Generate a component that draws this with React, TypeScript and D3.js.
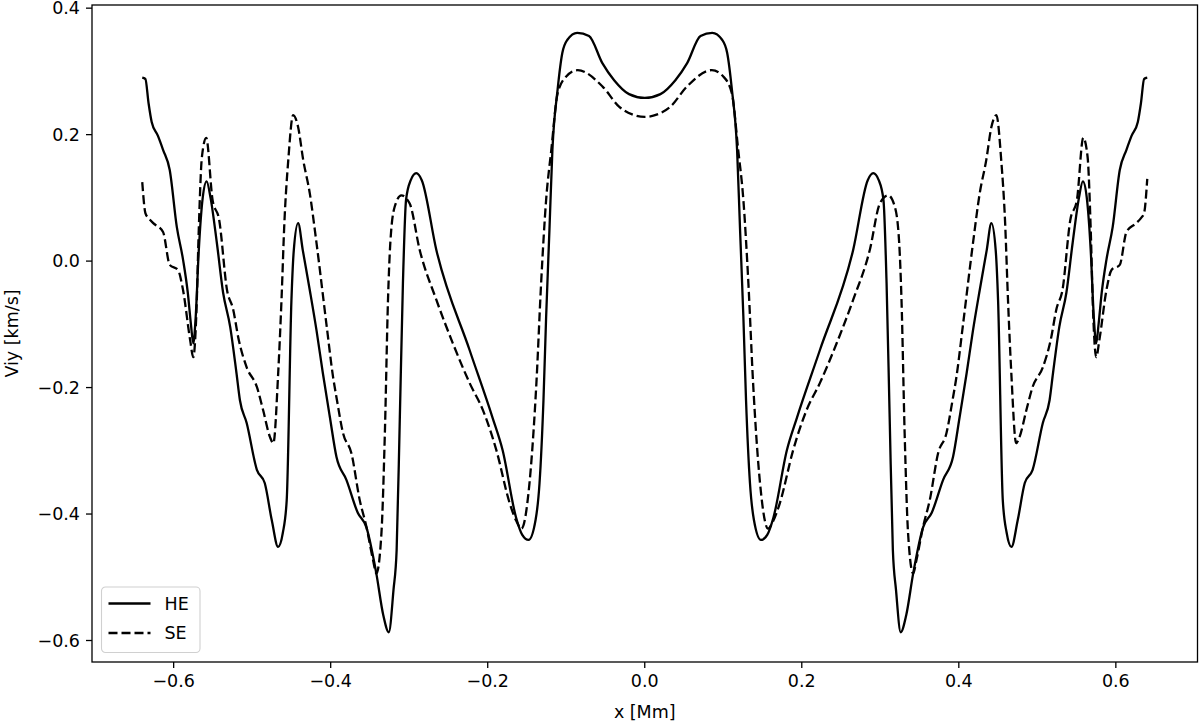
import React from 'react';
import * as d3 from 'd3';

// Viy profiles, [x in Mm, Viy in km/s]
const HE: [number, number][] = [
  [-0.640, 0.290], [-0.636, 0.288], [-0.632, 0.250], [-0.628, 0.220], [-0.620, 0.198],
  [-0.6135, 0.176], [-0.605, 0.144], [-0.596, 0.054], [-0.588, 0.002], [-0.582, -0.050],
  [-0.578, -0.100], [-0.575, -0.130], [-0.572, -0.090], [-0.568, 0.017], [-0.563, 0.100],
  [-0.558, 0.126], [-0.553, 0.100], [-0.545, 0.029], [-0.537, -0.050], [-0.528, -0.104],
  [-0.520, -0.177], [-0.5156, -0.220], [-0.507, -0.256], [-0.494, -0.330], [-0.484, -0.351],
  [-0.475, -0.410], [-0.467, -0.452], [-0.461, -0.430], [-0.456, -0.378], [-0.450, -0.062],
  [-0.447, 0.017], [-0.4415, 0.060], [-0.4355, 0.017], [-0.4266, -0.046], [-0.418, -0.110],
  [-0.410, -0.177], [-0.401, -0.247], [-0.3926, -0.310], [-0.380, -0.346], [-0.3655, -0.398],
  [-0.3545, -0.421], [-0.342, -0.493], [-0.333, -0.560], [-0.326, -0.587], [-0.320, -0.520],
  [-0.316, -0.457], [-0.312, -0.251], [-0.308, -0.035], [-0.304, 0.097], [-0.298, 0.128],
  [-0.291, 0.139], [-0.284, 0.128], [-0.2655, 0.018], [-0.223, -0.141], [-0.194, -0.247],
  [-0.181, -0.299], [-0.164, -0.405], [-0.156, -0.433], [-0.148, -0.441], [-0.139, -0.409],
  [-0.134, -0.351], [-0.129, -0.220], [-0.1256, -0.088], [-0.1214, 0.049], [-0.1176, 0.176],
  [-0.111, 0.271], [-0.105, 0.329], [-0.0985, 0.350], [-0.086, 0.361], [-0.071, 0.356],
  [-0.054, 0.313], [-0.039, 0.286], [-0.020, 0.264], [0.000, 0.258],
  [0.020, 0.264], [0.039, 0.286], [0.054, 0.313], [0.071, 0.356], [0.086, 0.361],
  [0.0985, 0.350], [0.105, 0.329], [0.111, 0.271], [0.1176, 0.176], [0.1214, 0.049],
  [0.1256, -0.088], [0.129, -0.220], [0.134, -0.351], [0.139, -0.409], [0.148, -0.441],
  [0.156, -0.433], [0.164, -0.405], [0.181, -0.299], [0.194, -0.247], [0.223, -0.141],
  [0.2655, 0.018], [0.284, 0.128], [0.291, 0.139], [0.298, 0.128], [0.304, 0.097],
  [0.308, -0.035], [0.312, -0.251], [0.316, -0.457], [0.320, -0.520], [0.326, -0.587],
  [0.333, -0.560], [0.342, -0.493], [0.3545, -0.421], [0.3655, -0.398], [0.380, -0.346],
  [0.3926, -0.310], [0.401, -0.247], [0.410, -0.177], [0.418, -0.110], [0.4266, -0.046],
  [0.4355, 0.017], [0.4415, 0.060], [0.447, 0.017], [0.450, -0.062], [0.456, -0.378],
  [0.461, -0.430], [0.467, -0.452], [0.475, -0.410], [0.484, -0.351], [0.494, -0.330],
  [0.507, -0.256], [0.5156, -0.220], [0.520, -0.177], [0.528, -0.104], [0.537, -0.050],
  [0.545, 0.029], [0.553, 0.100], [0.558, 0.126], [0.563, 0.100], [0.568, 0.017],
  [0.572, -0.090], [0.575, -0.130], [0.578, -0.100], [0.582, -0.050], [0.588, 0.002],
  [0.596, 0.054], [0.605, 0.144], [0.6135, 0.176], [0.620, 0.198], [0.628, 0.220],
  [0.632, 0.250], [0.636, 0.288], [0.640, 0.290],
];

const SE: [number, number][] = [
  [-0.640, 0.125], [-0.636, 0.076], [-0.632, 0.068], [-0.626, 0.060], [-0.6135, 0.046],
  [-0.605, -0.006], [-0.5945, -0.014], [-0.588, -0.046], [-0.579, -0.125], [-0.575, -0.152],
  [-0.571, -0.080], [-0.568, 0.050], [-0.564, 0.165], [-0.5585, 0.195], [-0.5505, 0.097],
  [-0.542, 0.065], [-0.532, -0.046], [-0.5245, -0.075], [-0.517, -0.125], [-0.507, -0.168],
  [-0.494, -0.199], [-0.486, -0.236], [-0.4774, -0.278], [-0.473, -0.288], [-0.4669, -0.178],
  [-0.4626, -0.060], [-0.459, 0.060], [-0.454, 0.160], [-0.4478, 0.231], [-0.4415, 0.212],
  [-0.435, 0.160], [-0.4266, 0.107], [-0.418, 0.028], [-0.405, -0.104], [-0.397, -0.183],
  [-0.392, -0.220], [-0.3843, -0.272], [-0.3736, -0.304], [-0.363, -0.378], [-0.3545, -0.420],
  [-0.346, -0.473], [-0.3418, -0.494], [-0.3354, -0.431], [-0.331, -0.272], [-0.327, -0.061],
  [-0.324, 0.030], [-0.3185, 0.086], [-0.310, 0.104], [-0.2994, 0.091], [-0.2867, 0.018],
  [-0.2655, -0.061], [-0.2444, -0.130], [-0.223, -0.193], [-0.206, -0.236], [-0.189, -0.299],
  [-0.172, -0.383], [-0.164, -0.410], [-0.157, -0.423], [-0.1468, -0.351], [-0.138, -0.193],
  [-0.132, -0.035], [-0.1256, 0.097], [-0.119, 0.176], [-0.111, 0.265], [-0.100, 0.292],
  [-0.0854, 0.302], [-0.0537, 0.276], [-0.0324, 0.244], [-0.016, 0.232], [0.000, 0.228],
  [0.016, 0.232], [0.0324, 0.244], [0.0537, 0.276], [0.0854, 0.302], [0.100, 0.292],
  [0.111, 0.265], [0.119, 0.176], [0.1256, 0.097], [0.132, -0.035], [0.138, -0.193],
  [0.1468, -0.351], [0.157, -0.423], [0.164, -0.410], [0.172, -0.383], [0.189, -0.299],
  [0.206, -0.236], [0.223, -0.193], [0.2444, -0.130], [0.2655, -0.061], [0.2867, 0.018],
  [0.2994, 0.091], [0.310, 0.104], [0.3185, 0.086], [0.324, 0.030], [0.327, -0.061],
  [0.331, -0.272], [0.3354, -0.431], [0.3418, -0.494], [0.346, -0.473], [0.3545, -0.420],
  [0.363, -0.378], [0.3736, -0.304], [0.3843, -0.272], [0.392, -0.220], [0.397, -0.183],
  [0.405, -0.104], [0.418, 0.028], [0.4266, 0.107], [0.435, 0.160], [0.4415, 0.212],
  [0.4478, 0.231], [0.454, 0.160], [0.459, 0.060], [0.4626, -0.060], [0.4669, -0.178],
  [0.473, -0.288], [0.4774, -0.278], [0.486, -0.236], [0.494, -0.199], [0.507, -0.168],
  [0.517, -0.125], [0.5245, -0.075], [0.532, -0.046], [0.542, 0.065], [0.5505, 0.097],
  [0.5585, 0.195], [0.564, 0.165], [0.568, 0.050], [0.571, -0.080], [0.575, -0.152],
  [0.579, -0.125], [0.588, -0.046], [0.5945, -0.014], [0.605, -0.006], [0.6135, 0.046],
  [0.626, 0.060], [0.632, 0.068], [0.636, 0.076], [0.640, 0.130],
];

const SERIES_NAMES = ['HE', 'SE'];
const X_TICKS = [-0.6, -0.4, -0.2, 0.0, 0.2, 0.4, 0.6];
const Y_TICKS = [-0.6, -0.4, -0.2, 0.0, 0.2, 0.4];

export default function App() {
  const width = 1200, height = 724;
  const left = 92, right = 1197.5, top = 5, bottom = 662;
  const font = 'DejaVu Sans, sans-serif';
  const fs = 17.5;
  const tickLen = 6, tickPad = 6;

  const x = d3.scaleLinear().domain([-0.704, 0.704]).range([left, right]);
  const y = d3.scaleLinear().domain([-0.634, 0.405]).range([bottom, top]);
  const fmt = d3.format('.1f');

  const line = d3.line<[number, number]>()
    .x(d => x(d[0]))
    .y(d => y(d[1]))
    .curve(d3.curveMonotoneX);

  const dash = '9,4';
  const lw = 2.3;

  return (
    <svg width={width} height={height} style={{position: 'absolute', left: 0, top: 0, background: '#fff'}}
         fontFamily={font}>
      <rect x={0} y={0} width={width} height={height} fill="#fff"/>
      <path d={line(HE) || ''} fill="none" stroke="#000" strokeWidth={lw} strokeLinejoin="round"/>
      <path d={line(SE) || ''} fill="none" stroke="#000" strokeWidth={lw} strokeDasharray={dash}/>

      {/* frame */}
      <rect x={left} y={top} width={right - left} height={bottom - top} fill="none" stroke="#000" strokeWidth={1.3}/>

      {/* x axis */}
      <g>
        {X_TICKS.map(t => (
          <g key={t} transform={`translate(${x(t)},${bottom})`}>
            <line y2={tickLen} stroke="#000" strokeWidth={1.3}/>
            <text y={tickLen + tickPad} dy="0.76em" textAnchor="middle" fontSize={fs} fill="#000">{fmt(t)}</text>
          </g>
        ))}
        <text x={(left + right) / 2} y={718} textAnchor="middle" fontSize={fs} fill="#000">x [Mm]</text>
      </g>

      {/* y axis */}
      <g>
        {Y_TICKS.map(t => (
          <g key={t} transform={`translate(${left},${y(t)})`}>
            <line x2={-tickLen} stroke="#000" strokeWidth={1.3}/>
            <text x={-(tickLen + tickPad)} dy="0.35em" textAnchor="end" fontSize={fs} fill="#000">{fmt(t)}</text>
          </g>
        ))}
        <text transform={`translate(18,${(top + bottom) / 2}) rotate(-90)`} textAnchor="middle"
              fontSize={fs} fill="#000">Viy [km/s]</text>
      </g>

      {/* legend */}
      <g transform="translate(101.5,587)">
        <rect width={98.5} height={65.5} rx={4} fill="#fff" fillOpacity={0.8} stroke="#d0d0d0" strokeWidth={1.1}/>
        {SERIES_NAMES.map((name, i) => (
          <g key={name} transform={`translate(0,${16.5 + i * 29.5})`}>
            <line x1={7} x2={49} stroke="#000" strokeWidth={lw} strokeDasharray={i === 1 ? dash : undefined}/>
            <text x={63} dy="0.35em" fontSize={fs} fill="#000">{name}</text>
          </g>
        ))}
      </g>
    </svg>
  );
}
